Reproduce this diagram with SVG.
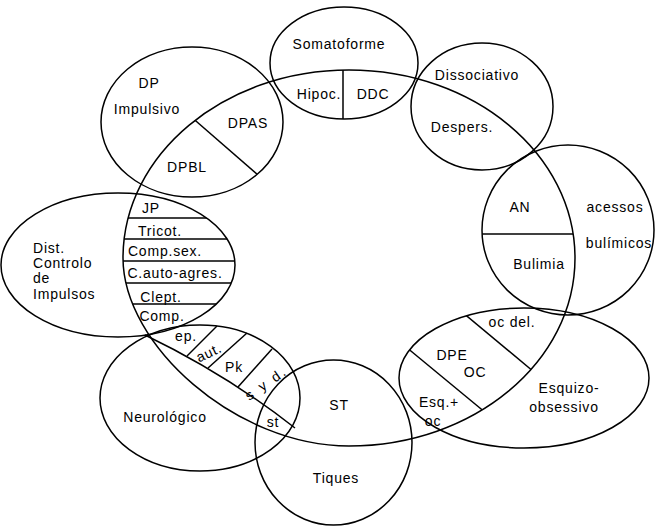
<svg xmlns="http://www.w3.org/2000/svg" width="656" height="527" viewBox="0 0 656 527">
<style>
.s{fill:none;stroke:#000;stroke-width:1.5}
.t{font-family:"Liberation Sans",Arial,sans-serif;font-size:14px;letter-spacing:0.8px;fill:#000;text-anchor:middle}
.l{text-anchor:start}
</style>
<defs>
<path id="ringPath" d="M349,70 C473.8,70 575,154.2 575,258 C575,361.8 473.8,446 349,446 C236,446 123,345 123,258 C123,154.2 224.2,70 349,70 Z"/>
<clipPath id="cBig"><use href="#ringPath"/></clipPath>
<clipPath id="cDist"><ellipse cx="118" cy="265" rx="117" ry="72"/></clipPath>
<clipPath id="cDP"><ellipse cx="192" cy="122" rx="91" ry="75"/></clipPath>
<clipPath id="cSoma"><ellipse cx="344" cy="63" rx="74" ry="56"/></clipPath>
<clipPath id="cAN"><ellipse cx="568" cy="230" rx="86" ry="85"/></clipPath>
<clipPath id="cEsq"><ellipse cx="524" cy="378" rx="125" ry="70"/></clipPath>
</defs>
<rect width="656" height="527" fill="#fff"/>

<g id="ring">
<use href="#ringPath" class="s"/>
</g>

<g id="somatoforme">
<ellipse class="s" cx="344" cy="63" rx="74" ry="56"/>
<g clip-path="url(#cBig)"><g clip-path="url(#cSoma)"><line class="s" x1="343" y1="60" x2="343" y2="130"/></g></g>
<text class="t" x="339" y="49">Somatoforme</text>
<text class="t" x="319" y="99">Hipoc.</text>
<text class="t" x="373" y="99">DDC</text>
</g>

<g id="dissociativo">
<ellipse class="s" cx="482" cy="106.5" rx="71" ry="63.5"/>
<text class="t" x="477" y="80">Dissociativo</text>
<text class="t" x="462" y="132">Despers.</text>
</g>

<g id="dp-impulsivo">
<ellipse class="s" cx="192" cy="122" rx="91" ry="75"/>
<g clip-path="url(#cBig)"><g clip-path="url(#cDP)"><line class="s" x1="189" y1="115" x2="266" y2="182"/></g></g>
<text class="t" x="149" y="88">DP</text>
<text class="t" x="147" y="114">Impulsivo</text>
<text class="t" x="248" y="128">DPAS</text>
<text class="t" x="187" y="172">DPBL</text>
</g>

<g id="dist-controlo">
<ellipse class="s" cx="118" cy="265" rx="117" ry="72"/>
<g clip-path="url(#cBig)"><g clip-path="url(#cDist)">
<line class="s" x1="100" y1="218" x2="250" y2="218"/>
<line class="s" x1="100" y1="239" x2="250" y2="239"/>
<line class="s" x1="100" y1="261" x2="250" y2="261"/>
<line class="s" x1="100" y1="283" x2="250" y2="283"/>
<line class="s" x1="100" y1="304" x2="250" y2="304"/>
</g></g>
<text class="t l" x="33" y="253">Dist.</text>
<text class="t l" x="33" y="268">Controlo</text>
<text class="t l" x="33" y="283">de</text>
<text class="t l" x="33" y="299">Impulsos</text>
<text class="t" x="151" y="213">JP</text>
<text class="t" x="160" y="236">Tricot.</text>
<text class="t" x="165" y="256">Comp.sex.</text>
<text class="t" x="175" y="278">C.auto-agres.</text>
<text class="t" x="161" y="302">Clept.</text>
<text class="t" x="162" y="321">Comp.</text>
</g>

<g id="neurologico">
<ellipse class="s" cx="200" cy="398" rx="100" ry="73"/>
<path class="s" d="M145,335 Q226,374 295,428"/>
<line class="s" x1="217" y1="326" x2="187" y2="356"/>
<line class="s" x1="247" y1="333" x2="208" y2="368"/>
<line class="s" x1="272" y1="349" x2="238" y2="387"/>
<text class="t" x="165" y="422">Neurológico</text>
<text class="t" x="186" y="341">ep.</text>
<text class="t" transform="translate(211,357) rotate(-25)">aut.</text>
<text class="t" x="234" y="372">Pk</text>
<text class="t" style="letter-spacing:2.5px" transform="translate(269,387) rotate(-35)">s y d.</text>
<text class="t" x="273" y="427">st</text>
</g>

<g id="tiques">
<ellipse class="s" cx="333.5" cy="442.5" rx="78.5" ry="82.5"/>
<text class="t" x="339" y="410">ST</text>
<text class="t" x="336" y="483">Tiques</text>
</g>

<g id="esquizo-obsessivo">
<ellipse class="s" cx="524" cy="378" rx="125" ry="70"/>
<g clip-path="url(#cBig)"><g clip-path="url(#cEsq)">
<line class="s" x1="456" y1="307" x2="540" y2="377"/>
<line class="s" x1="400" y1="342" x2="492" y2="418"/>
</g></g>
<text class="t" x="512" y="327">oc del.</text>
<text class="t" x="452" y="360">DPE</text>
<text class="t" x="475" y="377">OC</text>
<text class="t" x="439" y="407">Esq.+</text>
<text class="t" x="433" y="426">oc</text>
<text class="t" x="569" y="393">Esquizo-</text>
<text class="t" x="564" y="412">obsessivo</text>
</g>

<g id="an">
<ellipse class="s" cx="568" cy="230" rx="86" ry="85"/>
<g clip-path="url(#cBig)"><g clip-path="url(#cAN)"><line class="s" x1="470" y1="234" x2="600" y2="234"/></g></g>
<text class="t" x="520" y="212">AN</text>
<text class="t" x="615" y="212">acessos</text>
<text class="t" x="619" y="248">bulímicos</text>
<text class="t" x="539" y="269">Bulimia</text>
</g>
</svg>
